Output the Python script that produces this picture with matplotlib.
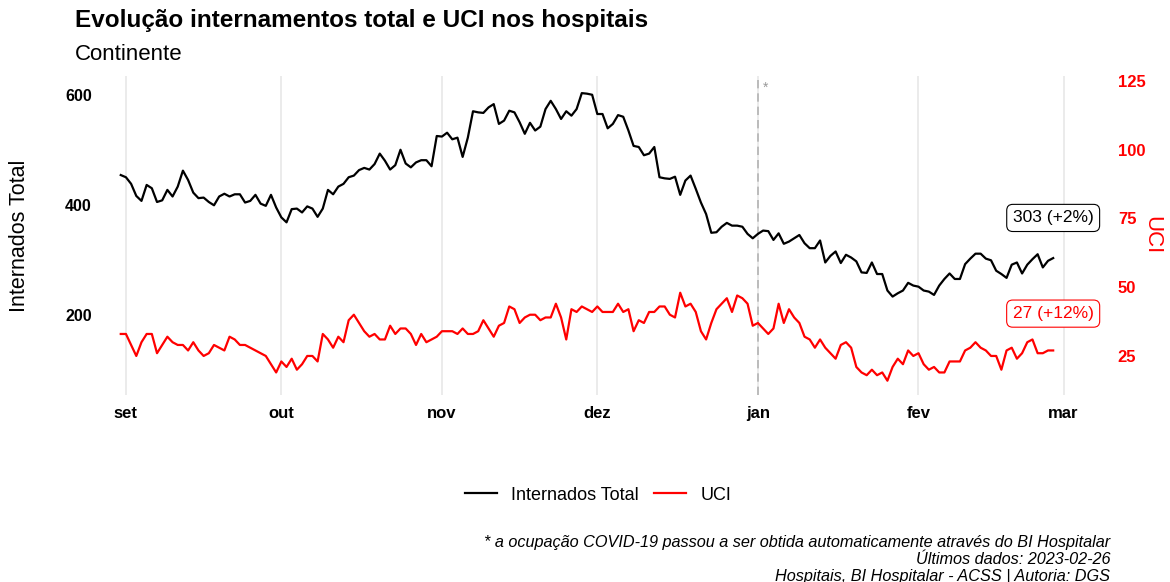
import numpy as np
import pandas as pd
import matplotlib
matplotlib.use("Agg")
import matplotlib.pyplot as plt
from matplotlib.lines import Line2D

plt.rcParams['font.family'] = ['Liberation Sans', 'DejaVu Sans']

# dados diarios (31 ago 2022 - 27 fev 2023)
datas = pd.date_range("2022-08-31", periods=181, freq="D")

internados = [
    454, 450, 438, 416, 407, 436, 430, 405, 408, 427, 415, 433, 462, 445, 422, 412,
    413, 405, 399, 415, 420, 415, 419, 419, 404, 407, 418, 402, 398, 418, 395, 377,
    368, 392, 393, 386, 397, 393, 378, 393, 427, 419, 433, 438, 450, 453, 463, 467,
    464, 474, 493, 480, 464, 472, 500, 475, 468, 477, 481, 481, 470, 525, 524, 531,
    519, 522, 487, 522, 570, 568, 567, 577, 583, 547, 553, 571, 568, 550, 529, 549,
    535, 542, 574, 589, 574, 556, 570, 562, 574, 603, 602, 600, 565, 565, 539, 547,
    563, 560, 535, 507, 505, 490, 493, 505, 450, 448, 447, 451, 418, 444, 453, 429,
    404, 383, 349, 350, 360, 367, 362, 362, 360, 347, 339, 347, 353, 352, 336, 348,
    329, 333, 339, 345, 330, 321, 321, 335, 295, 307, 315, 294, 309, 304, 297, 277,
    276, 295, 274, 274, 244, 233, 239, 244, 258, 253, 251, 244, 242, 236, 253, 265,
    275, 265, 265, 292, 302, 311, 311, 302, 299, 280, 274, 267, 291, 295, 275, 291,
    301, 310, 286, 298, 303,
]

uci = [
    33, 33, 29, 25, 30, 33, 33, 26, 29, 32, 30, 29, 29, 27, 30, 27,
    25, 26, 29, 28, 27, 32, 31, 29, 29, 28, 27, 26, 25, 22, 19, 23,
    21, 24, 20, 22, 25, 25, 23, 33, 31, 28, 32, 30, 38, 40, 37, 34,
    32, 33, 31, 31, 36, 33, 35, 35, 33, 29, 33, 30, 31, 32, 34, 34,
    34, 33, 35, 33, 33, 34, 38, 35, 32, 36, 37, 43, 42, 37, 39, 40,
    40, 38, 39, 39, 44, 39, 31, 42, 41, 43, 42, 41, 43, 41, 41, 41,
    44, 41, 42, 34, 38, 37, 41, 41, 43, 43, 40, 39, 48, 43, 44, 41,
    34, 31, 37, 42, 44, 46, 41, 47, 46, 44, 36, 37, 35, 33, 35, 44,
    37, 42, 39, 37, 32, 31, 28, 31, 28, 26, 24, 29, 30, 28, 21, 19,
    18, 20, 18, 19, 16, 21, 24, 22, 27, 25, 26, 22, 20, 21, 19, 19,
    23, 23, 23, 27, 28, 30, 28, 27, 25, 25, 20, 27, 28, 24, 26, 30,
    31, 26, 26, 27, 27,
]

meses = pd.to_datetime(["2022-09-01", "2022-10-01", "2022-11-01", "2022-12-01",
                        "2023-01-01", "2023-02-01", "2023-03-01"])
meses_lab = ["set", "out", "nov", "dez", "jan", "fev", "mar"]

label_total = "303 (+2%)"
label_uci = "27 (+12%)"
fator = 5  # escala secundaria: UCI = total / 5

fig = plt.figure(figsize=(11.7, 5.82), dpi=100)
ax = fig.add_axes([0.0855, 0.3213, 0.8545, 0.548])
ax2 = ax.twinx()

ax.plot(datas, internados, color="black", lw=1.6)
ax2.plot(datas, uci, color="red", lw=1.6)

ylim = (54, 634)
ax.set_ylim(ylim)
ax2.set_ylim(ylim[0] / fator, ylim[1] / fator)
ax.set_xlim(pd.Timestamp("2022-08-27"), pd.Timestamp("2023-03-08"))

# grelha vertical nos meses
for m in meses:
    ax.axvline(m, color="#ebebeb", lw=1.4, zorder=0)
ax.axvline(pd.Timestamp("2023-01-01"), color="#b3b3b3", lw=1.2, ls=(0, (5, 3)), zorder=1)
ax.text(pd.Timestamp("2023-01-02"), 612, "*", color="#999999", fontsize=10, va="center")

ax.set_xticks(meses)
ax.set_xticklabels(meses_lab, fontweight="bold", fontsize=12)
ax.set_yticks([200, 400, 600])
ax.tick_params(axis="y", labelsize=11.5, length=0, pad=6)
ax.tick_params(axis="x", length=0, pad=8)
for t in ax.get_yticklabels():
    t.set_fontweight("bold")
ax2.set_yticks([25, 50, 75, 100, 125])
ax2.tick_params(axis="y", labelsize=12, length=0, colors="red", pad=13)
for t in ax2.get_yticklabels():
    t.set_fontweight("bold")

ax.set_ylabel("Internados Total", fontsize=15.5)
ax.yaxis.set_label_coords(-0.07, 0.5)
ax2.set_ylabel("UCI", fontsize=16, color="red", rotation=-90, labelpad=12)

for a in (ax, ax2):
    for s in a.spines.values():
        s.set_visible(False)

ax.text(datas[-1], 376, label_total, ha="center", va="center", fontsize=12.5,
        bbox=dict(boxstyle="round,pad=0.35", fc="white", ec="black", lw=0.8))
ax2.text(datas[-1], 40.4, label_uci, ha="center", va="center", fontsize=12.5, color="red",
         bbox=dict(boxstyle="round,pad=0.35", fc="white", ec="red", lw=0.8))

fig.text(75 / 1170, 1 - 20 / 582, "Evolução internamentos total e UCI nos hospitais",
         fontsize=17.5, fontweight="bold", va="center")
fig.text(75 / 1170, 1 - 54 / 582, "Continente", fontsize=16, va="center")

handles = [Line2D([], [], color="black", lw=1.6), Line2D([], [], color="red", lw=1.6)]
fig.legend(handles, ["Internados Total", "UCI"], loc="center", ncol=2, frameon=False,
           bbox_to_anchor=(598 / 1170, 1 - 495 / 582), fontsize=13,
           handlelength=1.8, columnspacing=0.8, handletextpad=0.8)

caption = ["* a ocupação COVID-19 passou a ser obtida automaticamente através do BI Hospitalar",
           "Últimos dados: 2023-02-26",
           "Hospitais, BI Hospitalar - ACSS | Autoria: DGS"]
for i, linha in enumerate(caption):
    fig.text(1110 / 1170, 1 - (543 + 16.5 * i) / 582, linha, ha="right", va="center",
             fontsize=11.7, style="italic")

fig.savefig("out.png", dpi=100)
